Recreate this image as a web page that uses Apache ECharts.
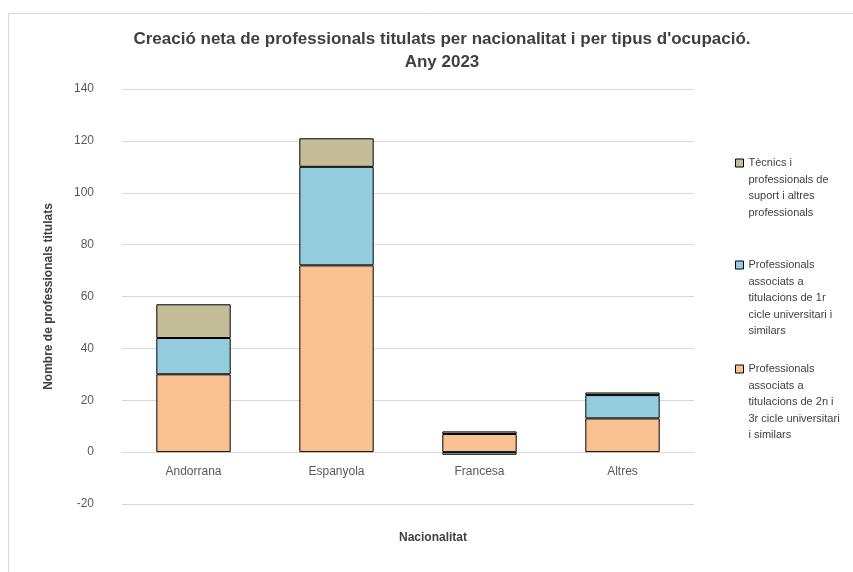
<!DOCTYPE html>
<html>
<head>
<meta charset="utf-8">
<script src="https://cdn.jsdelivr.net/npm/echarts@6/dist/echarts.min.js"></script>
<style>
  html, body { margin: 0; padding: 0; background: #fff; }
  #chart { width: 853px; height: 572px; }
</style>
</head>
<body>
<div id="chart"></div>
<script>
// dades llegides del gràfic
const categories = ['Andorrana', 'Espanyola', 'Francesa', 'Altres']
const cicle2n3r = [30, 72, 7, 13]
const cicle1r = [14, 38, -1, 9]
const tecnics = [13, 11, 1, 1]

const seriesNames = [
  'Professionals associats a titulacions de 2n i 3r cicle universitari i similars',
  'Professionals associats a titulacions de 1r cicle universitari i similars',
  'Tècnics i professionals de suport i altres professionals'
]
const legendText = {
  [seriesNames[0]]: 'Professionals\nassociats a\ntitulacions de 2n i\n3r cicle universitari\ni similars',
  [seriesNames[1]]: 'Professionals\nassociats a\ntitulacions de 1r\ncicle universitari i\nsimilars',
  [seriesNames[2]]: 'Tècnics i\nprofessionals de\nsuport i altres\nprofessionals'
}
const colors = ['#F9C18F', '#93CDDD', '#C4BD97']

const font = 'Liberation Sans, Arial, sans-serif'
const LH = 16.6
const chart = echarts.init(document.getElementById('chart'))

// la icona queda centrada al bloc de text: línies buides al davant perquè s'alineï amb la primera línia
const mkLegend = (name, firstLineY) => {
  const n = legendText[name].split('\n').length
  return {
    orient: 'vertical',
    left: 735,
    top: firstLineY - (2 * n - 1) * LH / 2,
    padding: 0,
    data: [name],
    itemWidth: 8,
    itemHeight: 8,
    icon: 'rect',
    itemStyle: { borderColor: '#000', borderWidth: 1 },
    formatter: (nm) => '\n'.repeat(n - 1) + legendText[nm],
    textStyle: { fontFamily: font, fontSize: 11, color: '#404040', lineHeight: LH }
  }
}

const mkSeries = (name, data, color) => ({
  name: name,
  type: 'bar',
  stack: 'total',
  barWidth: '52%',
  data: data,
  itemStyle: { color: color, borderColor: '#000', borderWidth: 1 }
})

chart.setOption({
  animation: false,
  textStyle: { fontFamily: font },
  title: {
    text: "Creació neta de professionals titulats per nacionalitat i per tipus d'ocupació.\nAny 2023",
    left: 437,
    textAlign: 'center',
    top: 23,
    textStyle: { fontFamily: font, fontSize: 17, fontWeight: 'bold', color: '#404040', lineHeight: 23 }
  },
  legend: [
    mkLegend(seriesNames[2], 163),
    mkLegend(seriesNames[1], 265),
    mkLegend(seriesNames[0], 369)
  ],
  grid: { left: 122, right: 159, top: 89, bottom: 68 },
  xAxis: {
    type: 'category',
    data: categories,
    // l'eix es col·loca al valor 0 (52 px per sobre de la vora inferior)
    offset: -52,
    axisTick: { show: false },
    axisLine: { onZero: false, lineStyle: { color: '#d9d9d9' } },
    axisLabel: { fontFamily: font, fontSize: 12, color: '#595959', margin: 14 }
  },
  yAxis: {
    type: 'value',
    min: -20,
    max: 140,
    interval: 20,
    name: 'Nombre de professionals titulats',
    nameLocation: 'middle',
    nameGap: 67,
    nameTextStyle: { fontFamily: font, fontSize: 12, fontWeight: 'bold', color: '#404040' },
    axisLabel: { fontFamily: font, fontSize: 12, color: '#595959', margin: 28 },
    splitLine: { lineStyle: { color: '#d9d9d9' } }
  },
  graphic: [
    {
      type: 'text',
      x: 433,
      y: 538,
      style: { text: 'Nacionalitat', font: 'bold 12px ' + font, fill: '#404040', align: 'center', verticalAlign: 'middle' }
    },
    {
      type: 'polyline',
      shape: { points: [[8.5, 572], [8.5, 13.5], [853, 13.5]] },
      style: { fill: 'none', stroke: '#d9d9d9', lineWidth: 1 },
      silent: true
    }
  ],
  series: [
    mkSeries(seriesNames[0], cicle2n3r, colors[0]),
    mkSeries(seriesNames[1], cicle1r, colors[1]),
    mkSeries(seriesNames[2], tecnics, colors[2])
  ]
})
</script>
</body>
</html>
